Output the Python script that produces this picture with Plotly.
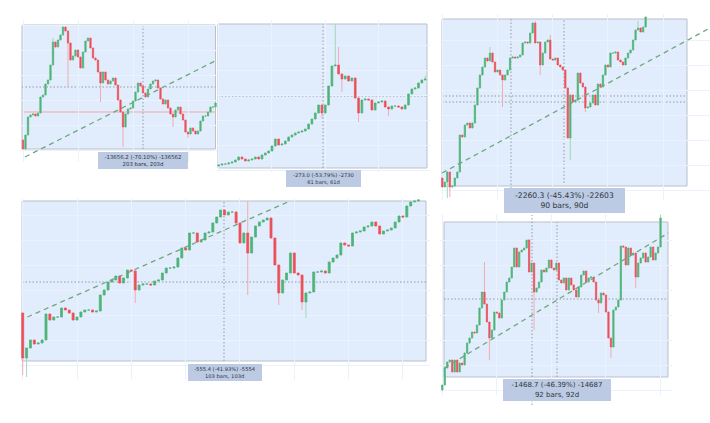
import plotly.graph_objects as go

W, H = 710, 423

# ---------------- data (price levels) ----------------
# Panel 1 (top-left)
p1_first_open = 10
p1_close = [1, 15, 33, 35, 36, 34, 37, 53, 55, 66, 70, 85, 108, 103, 110, 115, 123, 119, 107, 90,
            94, 100, 93, 82, 98, 109, 112, 102, 92, 90, 78, 67, 78, 70, 66, 69, 72, 65, 50, 38,
            23, 36, 41, 42, 49, 58, 67, 64, 57, 53, 61, 66, 69, 70, 62, 51, 46, 50, 42, 36,
            33, 40, 43, 36, 30, 18, 16, 22, 19, 16, 19, 29, 34, 34, 38, 43, 43, 47]
p1_high = {12: 112}
p1_low = {18: 63, 31: 48, 40: 3, 60: 23, 66: 12}
p1_trend_x = [0.8, 76.8]
p1_trend_y = [-7, 89]
p1_label = "-13656.2 (-70.10%) -136562<br>203 bars, 203d"

# Panel 2 (top-middle)
p2_first_open = 4
p2_close = [5, 6, 6, 7, 8, 10, 13, 11, 9, 10, 11, 13, 11, 15, 17, 19, 24, 31, 25, 26,
            29, 33, 35, 37, 38, 39, 41, 46, 51, 57, 65, 57, 65, 84, 104, 105, 96, 91, 94, 89,
            92, 72, 57, 70, 71, 70, 60, 67, 68, 69, 63, 61, 64, 64, 63, 61, 65, 76, 81, 82,
            87, 90, 91]
p2_high = {35: 146, 36: 123, 62: 94}
p2_low = {31: 52, 37: 78, 42: 48, 51: 54}
p2_trend_x = []
p2_trend_y = []
p2_label = "-273.0 (-53.79%) -2730<br>61 bars, 61d"

# Panel 3 (top-right)
p3_first_open = 12
p3_close = [3, 8, 18, 3, 4, 12, 18, 55, 53, 65, 67, 62, 67, 85, 102, 115, 123, 132, 129, 137,
            128, 118, 120, 115, 110, 115, 120, 132, 133, 132, 133, 135, 147, 148, 147, 157, 167, 147, 148, 125,
            137, 148, 150, 131, 130, 132, 125, 123, 120, 102, 52, 95, 88, 90, 117, 107, 103, 82, 83, 87,
            95, 85, 106, 103, 115, 125, 123, 137, 137, 138, 130, 128, 125, 132, 137, 140, 150, 160, 162, 158,
            163, 173]
p3_high = {19: 143, 37: 169, 43: 155, 78: 169}
p3_low = {2: -8, 3: -7, 24: 83, 39: 115, 51: 30, 57: 78}
p3_trend_x = [-0.1, 107.4]
p3_trend_y = [17, 163]
p3_label = "-2260.3 (-45.43%) -22603<br>90 bars, 90d"

# Panel 4 (bottom-left)
p4_first_open = 52
p4_close = [7, 17, 25, 21, 22, 25, 51, 45, 48, 48, 57, 55, 52, 45, 48, 53, 55, 55, 53, 54,
            70, 75, 83, 85, 89, 82, 87, 95, 94, 75, 80, 81, 81, 80, 84, 85, 92, 97, 97, 98,
            107, 117, 115, 132, 132, 123, 125, 132, 133, 142, 148, 155, 150, 153, 153, 142, 122, 132, 112, 128,
            139, 143, 145, 147, 127, 100, 72, 85, 92, 112, 92, 90, 63, 72, 73, 93, 93, 94, 92, 103,
            107, 110, 122, 120, 119, 132, 133, 134, 138, 139, 143, 139, 131, 134, 135, 137, 143, 149, 148, 159,
            163, 164, 165]
p4_high = {58: 164}
p4_low = {0: -10, 1: -12, 29: 62, 58: 70, 66: 60, 72: 55, 73: 47}
p4_trend_x = [1.2, 68.9]
p4_trend_y = [48, 164]
p4_label = "-555.4 (-41.93%) -5554<br>103 bars, 103d"

# Panel 5 (bottom-right)
p5_first_open = 0
p5_close = [5, 22, 28, 30, 18, 30, 18, 27, 25, 37, 47, 52, 58, 57, 65, 82, 98, 86, 68, 52,
            60, 78, 77, 72, 90, 98, 108, 112, 123, 142, 123, 138, 140, 142, 150, 118, 127, 98, 102, 108,
            120, 118, 122, 130, 122, 120, 127, 110, 107, 112, 100, 112, 105, 100, 93, 103, 115, 119, 108, 112,
            113, 108, 90, 87, 97, 95, 78, 52, 43, 80, 83, 90, 144, 143, 125, 142, 135, 137, 113, 127,
            132, 137, 128, 133, 143, 130, 137, 143, 172]
p5_high = {17: 128, 35: 151, 88: 175}
p5_low = {19: 30, 37: 60, 63: 77, 68: 32, 78: 102}
p5_trend_x = [0.8, 91.1]
p5_trend_y = [22, 157]
p5_label = "-1468.7 (-46.39%) -14687<br>92 bars, 92d"

# ---------------- layout geometry (pixels) ----------------
geo = {
    1: dict(dom=(20, 217, 20, 162), x0=23.0, dx=2.5, base=150, xdt=22,
            rect=(22, 25, 215.5, 149),
            vdots=[(143, 25, 149)], hdots=[(87, 22, 215.5)], pink=[(112, 22, 215.5)],
            box=(143, 160.5, 90, 17), fs=5.4),
    2: dict(dom=(217, 430, 20, 172), x0=218.7, dx=3.33, base=170, xdt=16,
            rect=(218, 24, 427, 168),
            vdots=[(323, 24, 168)], hdots=[(96, 218, 427)], pink=[],
            box=(323.5, 178.5, 75, 17), fs=5.2),
    3: dict(dom=(440, 710, 14, 200), x0=442.3, dx=2.51, base=190, xdt=22,
            rect=(442, 19, 687, 186),
            vdots=[(511, 19, 213), (564, 19, 183)], hdots=[(96, 442, 687), (102, 442, 687)], pink=[],
            box=(564.5, 200.5, 121, 25), fs=7.6),
    4: dict(dom=(20, 430, 198, 380), x0=22.7, dx=3.88, base=365, xdt=14,
            rect=(22, 201, 426, 361),
            vdots=[(224, 201, 361)], hdots=[(282, 22, 426)], pink=[],
            box=(225, 372.5, 74, 17), fs=5.2),
    5: dict(dom=(440, 672, 214, 395), x0=442.3, dx=2.48, base=390, xdt=22,
            rect=(444, 222, 668, 377),
            vdots=[(532, 215, 405), (557, 222, 377)], hdots=[(299, 444, 668)], pink=[],
            box=(557, 390, 108, 22), fs=7.0),
}

panels = {
    1: (p1_first_open, p1_close, p1_high, p1_low, p1_trend_x, p1_trend_y, p1_label),
    2: (p2_first_open, p2_close, p2_high, p2_low, p2_trend_x, p2_trend_y, p2_label),
    3: (p3_first_open, p3_close, p3_high, p3_low, p3_trend_x, p3_trend_y, p3_label),
    4: (p4_first_open, p4_close, p4_high, p4_low, p4_trend_x, p4_trend_y, p4_label),
    5: (p5_first_open, p5_close, p5_high, p5_low, p5_trend_x, p5_trend_y, p5_label),
}

UP, DOWN = "#4fb37c", "#e8505c"
UP_W, DOWN_W = "#a3d6b8", "#f1abb2"
TREND = "#71a67f"
BG = "#e1edfc"
BORDER = "#b9c0ca"
GRID = "#e9f2fd"
DOT = "#959ba5"
PINK = "#f2a5a8"
LABEL_BG = "#bccbe3"
LABEL_FG = "#2e3440"


def px(x):
    return x / W


def py(y):
    return 1 - y / H


fig = go.Figure()
shapes = []
annotations = []
layout_axes = {}

for n in range(1, 6):
    g = geo[n]
    first_open, close, hpts, lpts, tx, ty, label = panels[n]
    xa = "x" if n == 1 else f"x{n}"
    ya = "y" if n == 1 else f"y{n}"
    xs = list(range(len(close)))
    opens = [first_open] + close[:-1]
    hi = [max(o, c, hpts.get(i, max(o, c))) for i, (o, c) in enumerate(zip(opens, close))]
    lo = [min(o, c, lpts.get(i, min(o, c))) for i, (o, c) in enumerate(zip(opens, close))]
    bhi = [max(o, c) for o, c in zip(opens, close)]
    blo = [min(o, c) for o, c in zip(opens, close)]

    # wicks (pale)
    fig.add_trace(go.Candlestick(
        x=xs, open=opens, high=hi, low=lo, close=close, xaxis=xa, yaxis=ya,
        increasing=dict(line=dict(color=UP_W, width=1), fillcolor=UP_W),
        decreasing=dict(line=dict(color=DOWN_W, width=1), fillcolor=DOWN_W),
        whiskerwidth=0, showlegend=False, hoverinfo="skip"))
    # bodies
    fig.add_trace(go.Candlestick(
        x=xs, open=opens, high=bhi, low=blo, close=close, xaxis=xa, yaxis=ya,
        increasing=dict(line=dict(color=UP, width=0.5), fillcolor=UP),
        decreasing=dict(line=dict(color=DOWN, width=0.5), fillcolor=DOWN),
        whiskerwidth=0, showlegend=False, hoverinfo="skip"))
    if tx:
        fig.add_trace(go.Scatter(
            x=tx, y=ty, mode="lines", xaxis=xa, yaxis=ya,
            line=dict(color=TREND, width=1.3, dash="5px,4px"),
            showlegend=False, hoverinfo="skip"))

    x0, x1, y0, y1 = g["dom"]
    xkey = "xaxis" if n == 1 else f"xaxis{n}"
    ykey = "yaxis" if n == 1 else f"yaxis{n}"
    layout_axes[xkey] = dict(
        domain=[px(x0), px(x1)],
        range=[(x0 - g["x0"]) / g["dx"], (x1 - g["x0"]) / g["dx"]],
        anchor=ya, showticklabels=False, showline=False, zeroline=False,
        showgrid=True, gridcolor=GRID, gridwidth=1, tick0=0, dtick=g["xdt"],
        rangeslider=dict(visible=False), fixedrange=True)
    layout_axes[ykey] = dict(
        domain=[py(y1), py(y0)],
        range=[g["base"] - y1, g["base"] - y0],
        anchor=xa, showticklabels=False, showline=False, zeroline=False,
        showgrid=True, gridcolor=GRID, gridwidth=1, tick0=0, dtick=25, fixedrange=True)

    rx0, ry0, rx1, ry1 = g["rect"]
    shapes.append(dict(type="rect", xref="paper", yref="paper",
                       x0=px(rx0), x1=px(rx1), y0=py(ry1), y1=py(ry0),
                       fillcolor=BG, line=dict(color=BORDER, width=1), layer="below"))
    for (hy, hx0, hx1) in g["pink"]:
        shapes.append(dict(type="line", xref="paper", yref="paper",
                           x0=px(hx0), x1=px(hx1), y0=py(hy), y1=py(hy),
                           line=dict(color=PINK, width=1), layer="below"))
    for (hy, hx0, hx1) in g["hdots"]:
        shapes.append(dict(type="line", xref="paper", yref="paper",
                           x0=px(hx0), x1=px(hx1), y0=py(hy), y1=py(hy),
                           line=dict(color=DOT, width=1, dash="1.5px,2px"), layer="below"))
    for (vx, vy0, vy1) in g["vdots"]:
        shapes.append(dict(type="line", xref="paper", yref="paper",
                           x0=px(vx), x1=px(vx), y0=py(vy1), y1=py(vy0),
                           line=dict(color=DOT, width=1, dash="1.5px,2px"), layer="below"))

    bx, by, bw, bh = g["box"]
    annotations.append(dict(
        xref="paper", yref="paper", x=px(bx), y=py(by), xanchor="center", yanchor="middle",
        text=label, showarrow=False, width=bw, height=bh, bgcolor=LABEL_BG,
        borderpad=0, borderwidth=0, align="center", valign="middle",
        font=dict(family="DejaVu Sans", size=g["fs"], color=LABEL_FG)))

fig.update_layout(
    width=W, height=H, margin=dict(l=0, r=0, t=0, b=0),
    paper_bgcolor="white", plot_bgcolor="rgba(0,0,0,0)",
    shapes=shapes, annotations=annotations, showlegend=False,
    boxgap=0.28, hovermode=False,
    **layout_axes)

fig.write_html("out.html", config={"displayModeBar": False})
